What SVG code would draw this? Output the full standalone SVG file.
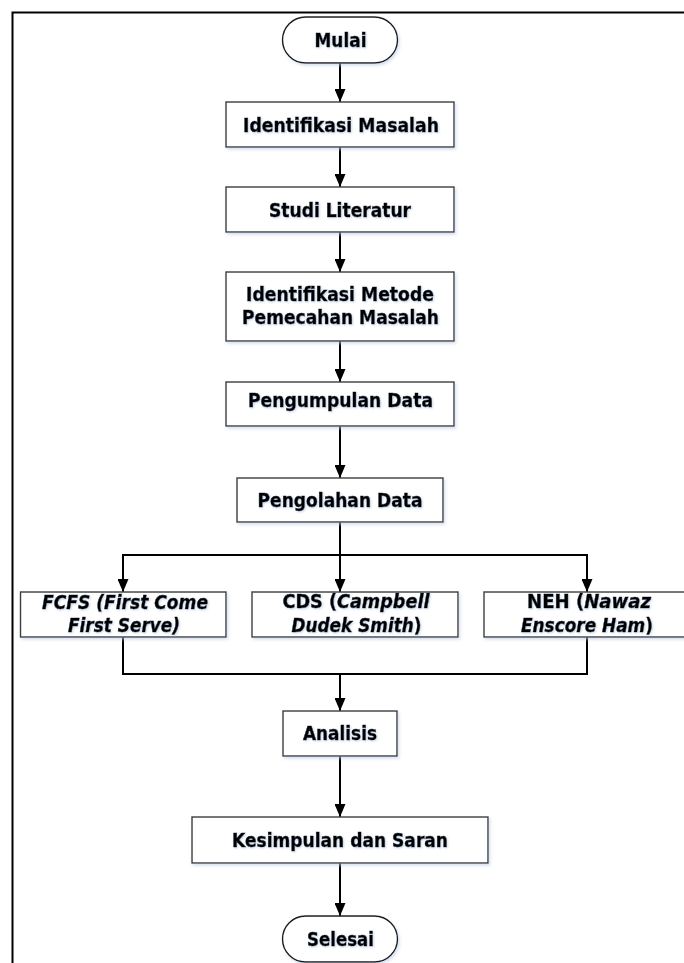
<svg xmlns="http://www.w3.org/2000/svg" width="684" height="963" viewBox="0 0 684 963">
<defs>
  <style>
    .box{fill:#ffffff;stroke:#3a3a3a;stroke-width:1.4;filter:url(#bshadow)}
    .term{fill:#ffffff;stroke:#1a1a1a;stroke-width:1.4;filter:url(#bshadow)}
    .lbl{font-family:"DejaVu Sans Condensed","DejaVu Sans",sans-serif;font-weight:bold;font-size:19.5px;fill:#000;stroke:#000;stroke-width:0.45;text-anchor:middle;filter:url(#tshadow)}
    .sm{font-size:19px}
    .it{font-style:italic}
    .conn{fill:none;stroke:#000;stroke-width:2}
    .frame{fill:none;stroke:#000;stroke-width:2}
  </style>
  <filter id="bshadow" x="-10%" y="-20%" width="125%" height="150%">
    <feDropShadow dx="1.5" dy="2" stdDeviation="1.5" flood-color="#b9cbe6" flood-opacity="0.6"/>
  </filter>
  <filter id="tshadow" x="-10%" y="-30%" width="120%" height="170%">
    <feDropShadow dx="1" dy="1" stdDeviation="1" flood-color="#9db4d8" flood-opacity="0.55"/>
  </filter>
  <marker id="arr" viewBox="0 0 13 11" markerWidth="13" markerHeight="11" refX="13" refY="5.5" orient="auto" markerUnits="userSpaceOnUse">
    <path d="M0,0 L13,5.5 L0,11 Z" fill="#000"/>
  </marker>
</defs>

<path class="frame" d="M12.5,963 V12.5 H684"/>

<g id="connectors">
  <line class="conn" x1="340" y1="63" x2="340" y2="102" marker-end="url(#arr)"/>
  <line class="conn" x1="340" y1="147" x2="340" y2="187" marker-end="url(#arr)"/>
  <line class="conn" x1="340" y1="232" x2="340" y2="272" marker-end="url(#arr)"/>
  <line class="conn" x1="340" y1="341" x2="340" y2="382" marker-end="url(#arr)"/>
  <line class="conn" x1="340" y1="426" x2="340" y2="478" marker-end="url(#arr)"/>
  <line class="conn" x1="340" y1="522" x2="340" y2="555"/>
  <line class="conn" x1="122" y1="555" x2="588" y2="555"/>
  <line class="conn" x1="123" y1="554" x2="123" y2="592" marker-end="url(#arr)"/>
  <line class="conn" x1="340" y1="555" x2="340" y2="592" marker-end="url(#arr)"/>
  <line class="conn" x1="587" y1="554" x2="587" y2="592" marker-end="url(#arr)"/>
  <polyline class="conn" points="123,637 123,674 587,674 587,637"/>
  <line class="conn" x1="340" y1="674" x2="340" y2="711" marker-end="url(#arr)"/>
  <line class="conn" x1="340" y1="756" x2="340" y2="817" marker-end="url(#arr)"/>
  <line class="conn" x1="340" y1="863" x2="340" y2="916" marker-end="url(#arr)"/>
</g>

<g id="mulai">
  <rect class="term" x="282.5" y="17" width="115" height="46" rx="23" ry="23"/>
  <text class="lbl" x="340.5" y="46.5" textLength="52" lengthAdjust="spacingAndGlyphs">Mulai</text>
</g>
<g id="identifikasi-masalah">
  <rect class="box" x="226" y="102" width="228" height="45"/>
  <text class="lbl" x="341" y="131.5" textLength="196" lengthAdjust="spacingAndGlyphs">Identifikasi Masalah</text>
</g>
<g id="studi-literatur">
  <rect class="box" x="226" y="187" width="228" height="45"/>
  <text class="lbl" x="340" y="217" textLength="142" lengthAdjust="spacingAndGlyphs">Studi Literatur</text>
</g>
<g id="identifikasi-metode">
  <rect class="box" x="226" y="272" width="228" height="69"/>
  <text class="lbl" x="340" y="301" textLength="188" lengthAdjust="spacingAndGlyphs">Identifikasi Metode</text>
  <text class="lbl" x="340.5" y="324" textLength="197" lengthAdjust="spacingAndGlyphs">Pemecahan Masalah</text>
</g>
<g id="pengumpulan-data">
  <rect class="box" x="226" y="382" width="228" height="44"/>
  <text class="lbl" x="340.5" y="406.5" textLength="185" lengthAdjust="spacingAndGlyphs">Pengumpulan Data</text>
</g>
<g id="pengolahan-data">
  <rect class="box" x="237" y="478" width="206" height="44"/>
  <text class="lbl" x="340" y="507" textLength="165" lengthAdjust="spacingAndGlyphs">Pengolahan Data</text>
</g>
<g id="fcfs">
  <rect class="box" x="20.5" y="592" width="205.5" height="45"/>
  <text class="lbl it" x="125" y="609" textLength="166" lengthAdjust="spacingAndGlyphs">FCFS (First Come</text>
  <text class="lbl it" x="124" y="632" textLength="112" lengthAdjust="spacingAndGlyphs">First Serve)</text>
</g>
<g id="cds">
  <rect class="box" x="252" y="592" width="206" height="45"/>
  <text class="lbl sm" x="356" y="608" textLength="147" lengthAdjust="spacingAndGlyphs">CDS (<tspan class="it">Campbell</tspan></text>
  <text class="lbl sm" x="356.5" y="632" textLength="130" lengthAdjust="spacingAndGlyphs"><tspan class="it">Dudek Smith</tspan>)</text>
</g>
<g id="neh">
  <rect class="box" x="484" y="592" width="206" height="45"/>
  <text class="lbl sm" x="589" y="608" textLength="124" lengthAdjust="spacingAndGlyphs">NEH (<tspan class="it">Nawaz</tspan></text>
  <text class="lbl sm" x="587" y="632" textLength="132" lengthAdjust="spacingAndGlyphs"><tspan class="it">Enscore Ham</tspan>)</text>
</g>
<g id="analisis">
  <rect class="box" x="283" y="711" width="114" height="45"/>
  <text class="lbl" x="340" y="740" textLength="74" lengthAdjust="spacingAndGlyphs">Analisis</text>
</g>
<g id="kesimpulan">
  <rect class="box" x="192" y="817" width="296" height="46"/>
  <text class="lbl" x="340" y="846.5" textLength="216" lengthAdjust="spacingAndGlyphs">Kesimpulan dan Saran</text>
</g>
<g id="selesai">
  <rect class="term" x="282.5" y="916" width="115" height="46" rx="23" ry="23"/>
  <text class="lbl" x="340.5" y="945.5" textLength="67" lengthAdjust="spacingAndGlyphs">Selesai</text>
</g>
</svg>
